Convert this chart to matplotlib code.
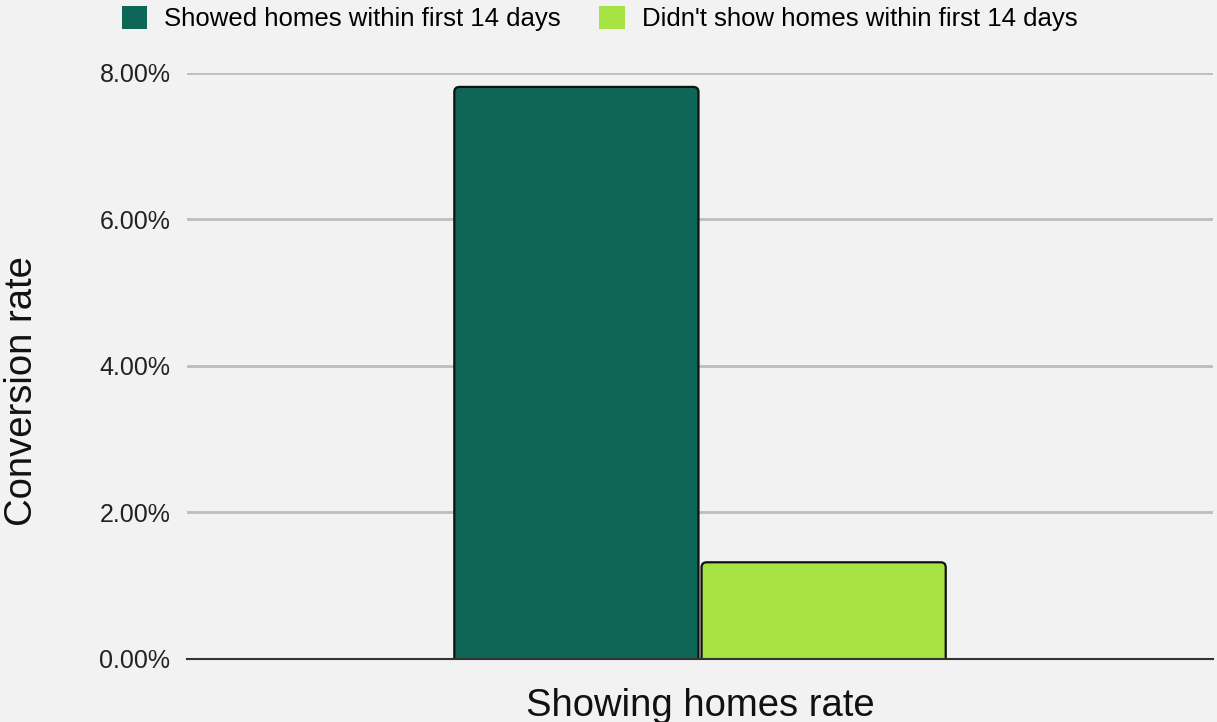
import matplotlib
matplotlib.use("Agg")
import matplotlib.pyplot as plt
from matplotlib.ticker import FuncFormatter
from matplotlib.patches import FancyBboxPatch

plt.rcParams['font.family'] = ['Liberation Sans', 'DejaVu Sans']

category = "Showing homes rate"
series = ["Showed homes within first 14 days", "Didn't show homes within first 14 days"]
rates = [7.81, 1.32]
colors = ['#0e6657', '#a6e343']

fig = plt.figure(figsize=(12.17, 7.22), dpi=100, facecolor='#f2f2f2')
ax = fig.add_axes([0.1537, 0.0873, 0.843, 0.8116], facecolor='#f2f2f2')

offsets = [-0.1205, 0.1205]
bars = []
for off, val, col, lab in zip(offsets, rates, colors, series):
    b = ax.bar(off, val, width=0.238, color=col, edgecolor='#111111',
               linewidth=1.6, label=lab, zorder=3)
    bars.append(b[0])

ax.set_xlim(-0.5, 0.5)
ax.set_ylim(0, 8)

# legend first, while the plain bars are still visible
leg = ax.legend(loc='center', bbox_to_anchor=(0.402, 1.093), ncol=2,
                frameon=False, fontsize=18.5, handlelength=1.0, handleheight=1.0,
                columnspacing=1.5, handletextpad=0.65)
for h in leg.legend_handles:
    h.set_linewidth(0)
    h.set_visible(True)

# rounded tops: replace each rectangle with a rounded box (bottom clipped)
aspect = (1026 / 1.0) / (586 / 8.0)
for r in bars:
    x, y = r.get_x(), r.get_y()
    w, h = r.get_width(), r.get_height()
    fb = FancyBboxPatch((x, y - 0.2), w, h + 0.2,
                        boxstyle="round,pad=0,rounding_size=0.005",
                        mutation_aspect=aspect,
                        facecolor=r.get_facecolor(), edgecolor='#111111',
                        linewidth=1.6, zorder=3)
    ax.add_patch(fb)
    r.set_visible(False)

ax.set_yticks([0, 2, 4, 6, 8])
ax.yaxis.set_major_formatter(FuncFormatter(lambda v, p: f"{v:.2f}%"))
ax.set_xticks([])
ax.grid(axis='y', color='#bdbdbd', linewidth=2, zorder=0)
for s in ['top', 'right', 'left']:
    ax.spines[s].set_visible(False)
ax.spines['bottom'].set_color('#333333')
ax.spines['bottom'].set_linewidth(1.5)
ax.spines['bottom'].set_zorder(4)
ax.tick_params(axis='y', length=0, labelsize=18, pad=12, labelcolor='#222222')

ax.set_xlabel(category, fontsize=27.5, labelpad=21, color='#111111')
ax.set_ylabel("Conversion rate", fontsize=27.5, color='#111111')
ax.yaxis.set_label_coords(-0.143, 0.457)

fig.savefig("out.png", dpi=100, facecolor=fig.get_facecolor())
